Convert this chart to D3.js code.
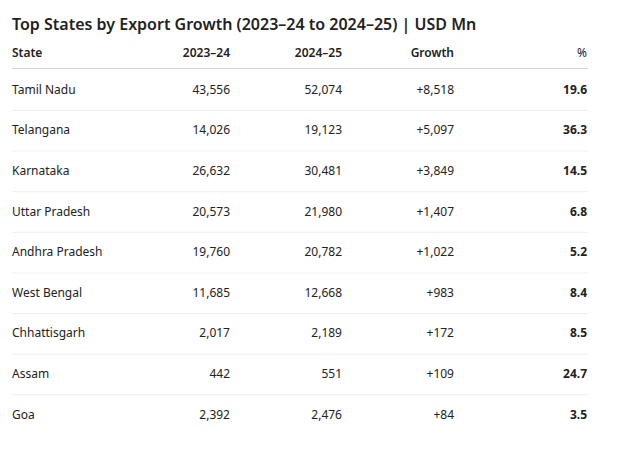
<!DOCTYPE html>
<html lang="en">
<head>
<meta charset="UTF-8">
<title>Top States by Export Growth</title>
<script src="https://d3js.org/d3.v7.min.js"></script>
<style>
  body { margin: 0; background: #fff; }
  text { font-family: "Noto Sans", "Open Sans", sans-serif; fill: #222; }
</style>
</head>
<body>
<script>
// table data
const states = ["Tamil Nadu", "Telangana", "Karnataka", "Uttar Pradesh", "Andhra Pradesh",
                "West Bengal", "Chhattisgarh", "Assam", "Goa"];
const fy2324 = [43556, 14026, 26632, 20573, 19760, 11685, 2017, 442, 2392];
const fy2425 = [52074, 19123, 30481, 21980, 20782, 12668, 2189, 551, 2476];
const growth = [8518, 5097, 3849, 1407, 1022, 983, 172, 109, 84];
const pct = [19.6, 36.3, 14.5, 6.8, 5.2, 8.4, 8.5, 24.7, 3.5];
const headers = ["State", "2023–24", "2024–25", "Growth", "%"];

const width = 621, height = 451;
const svg = d3.select("body").append("svg")
  .attr("width", width).attr("height", height);

svg.append("text")
  .attr("x", 12).attr("y", 30)
  .attr("font-size", 16).attr("font-weight", 600)
  .text("Top States by Export Growth (2023–24 to 2024–25) | USD Mn");

// column positions: first column left aligned, others right aligned
const colX = [12, 230, 342, 454, 587];
const anchors = ["start", "end", "end", "end", "end"];

const y = d3.scaleBand().domain(states).range([69, 69 + 9 * 40.6]);

svg.selectAll(".hdr").data(headers).join("text")
  .attr("x", (d, i) => colX[i]).attr("y", 57)
  .attr("text-anchor", (d, i) => anchors[i])
  .attr("font-size", 12).attr("font-weight", (d, i) => i === 4 ? 400 : 600)
  .text(d => d);

svg.append("line")
  .attr("x1", 12).attr("x2", 588).attr("y1", 68.5).attr("y2", 68.5)
  .attr("stroke", "#d6d6d6").attr("stroke-width", 1);

const fmt = d3.format(",");
const rows = states.map((s, i) => [s, fmt(fy2324[i]), fmt(fy2425[i]), "+" + fmt(growth[i]), pct[i].toFixed(1)]);

const g = svg.selectAll(".row").data(rows).join("g")
  .attr("transform", d => `translate(0,${y(d[0])})`);

g.filter((d, i) => i < states.length - 1).append("line")
  .attr("x1", 12).attr("x2", 588)
  .attr("y1", Math.round(y.bandwidth()) + 0.5).attr("y2", Math.round(y.bandwidth()) + 0.5)
  .attr("stroke", "#efefef");

g.selectAll("text").data(d => d).join("text")
  .attr("x", (d, i) => colX[i])
  .attr("y", y.bandwidth() / 2 + 4.5)
  .attr("text-anchor", (d, i) => anchors[i])
  .attr("font-size", 12)
  .attr("font-weight", (d, i) => i === 4 ? 700 : 400)
  .text(d => d);
</script>
</body>
</html>
